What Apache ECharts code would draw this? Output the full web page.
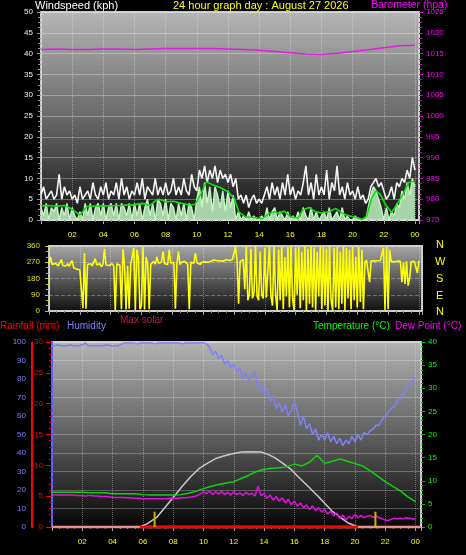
<!DOCTYPE html>
<html><head><meta charset="utf-8">
<script src="https://cdn.jsdelivr.net/npm/echarts/dist/echarts.min.js"></script>
<style>html,body{margin:0;padding:0;background:#000;}#c{width:466px;height:555px;}</style>
</head><body><div id="c"></div>
<script>
// ---------- DATA ----------
const hourTickLabels = ['02','04','06','08','10','12','14','16','18','20','22','00'];
const barometerHourly = [1016.0,1016.1,1016.0,1016.0,1016.1,1016.1,1016.0,1016.1,1016.2,1016.2,1016.2,1016.2,1016.1,1016.0,1015.8,1015.5,1015.2,1014.9,1014.8,1015.1,1015.5,1015.9,1016.4,1016.9,1017.0];
// 10-minute samples (6 per hour)
const windGust = [
 6,8,5,6,7,5, 6,11,5,8,6,7, 5,6,4,8,5,6, 7,5,9,6,5,8, 6,9,5,7,6,9, 5,10,6,8,5,7,
 6,9,6,10,5,8, 7,6,10,6,8,6, 9,6,7,10,6,8, 6,10,7,6,11,8, 7,12,10,13,9,12, 10,13,9,12,10,11,
 9,11,8,10,5,6, 4,6,3,5,6,4, 5,4,6,8,5,9, 6,8,5,9,6,11, 6,8,5,7,6,9, 13,6,9,5,11,6,
 8,6,12,5,9,7, 13,6,8,5,9,6, 7,5,8,5,6,4, 5,8,9,10,8,9, 7,5,6,8,5,9, 8,10,9,12,10,15, 12];
const windSpeed = [
 3,1,4,0,3,2, 4,0,3,1,4,0, 3,1,0,2,0,4, 1,4,0,3,4,1, 4,0,3,4,1,4, 0,4,3,1,4,0,
 4,1,4,0,3,5, 1,4,0,5,4,1, 5,0,4,3,0,4, 1,4,0,4,3,0, 5,8,3,9,4,8, 2,8,6,3,7,2,
 7,3,6,0,2,0, 1,0,2,0,1,0, 0,1,0,3,0,2, 3,0,2,1,0,2, 0,1,0,2,0,3, 1,0,3,0,2,0,
 1,2,0,3,0,1, 2,0,3,0,1,0, 0,1,0,0,0,0, 3,6,8,7,5,3, 0,3,0,2,1,4, 3,7,5,9,6,10, 8];
const avgWindHours = [0,0.5,1,1.5,1.8,2.2,2.5,2.8,3,4,5,6,6.5,7,7.3,7.6,8,8.5,9,9.5,9.9,10.3,10.6,11,11.5,12,12.4,12.7,13.1,13.7,14.2,14.6,15,15.3,15.6,16,16.5,16.8,17.2,17.6,18,18.5,18.9,19.2,19.5,20,20.3,20.6,20.9,21.2,21.5,21.8,22.1,22.5,22.8,23.2,23.6,24];
const avgWind = [3.4,3.5,3.3,3.5,3.0,2.0,1.2,2.6,3.3,3.4,3.5,3.7,4.0,3.5,4.5,5.0,4.4,4.5,4.0,3.6,3.8,6.5,9.2,8.5,7.8,6.8,5.2,1.9,0.8,0.6,0.3,1.5,2.0,1.5,2.2,0.8,0.4,2.4,3.0,2.0,1.7,2.0,2.8,2.0,1.3,0.8,0.6,0.1,0.9,5.0,7.0,6.0,3.8,1.8,3.5,6.0,9.0,9.3];
// wind direction, 6-minute samples (10 per hour)
const windDir = [
 262,300,258,250,265,255,250,258,285,252, 255,250,262,248,255,280,240,235,232,230,
 228,235,15,320,12,258,252,262,250,255, 290,255,250,262,245,258,345,255,250,252,
 258,262,250,5,260,250,255,10,345,255, 8,250,12,260,300,350,5,340,290,10,
 30,355,8,300,265,10,258,262,275,260, 300,265,258,270,330,262,268,258,340,265,
 262,270,12,265,330,258,270,262,275,268, 258,10,270,262,265,320,268,272,258,270,
 275,272,278,270,280,275,278,282,276,278, 280,278,282,276,280,284,278,280,282,285,
 280,355,282,40,275,280,285,120,360,60, 90,345,70,100,360,80,60,330,90,70,
 350,75,65,360,80,30,355,90,5,340, 60,360,10,300,80,355,20,360,70,5,
 350,90,355,15,330,60,360,0,345,40, 360,20,350,5,330,80,360,10,355,30,
 345,0,360,60,5,350,20,355,10,330, 40,360,5,350,70,340,10,355,60,300,
 20,355,50,340,10,270,282,275,160,278, 280,276,282,278,285,280,275,350,5,355,
 10,340,275,278,272,280,276,282,275,160, 270,150,275,140,185,272,278,275,280,210, 278];
// 12-minute samples (5 per hour)
const humidity = [
 98,98,98.5,98,98, 98,98.5,98,98,98, 98.5,99.5,98,98,98, 98,98,98,98.5,98, 98,98,98,99,99.5,
 99.5,99.5,99.5,99,99.5, 99.5,99.5,99.5,99.5,99, 99.5,99.5,99.5,99.5,99.5, 99.5,99.5,99.5,99,99.5, 99.5,99.5,99.5,99.5,99.5,
 99.5,99,97,93,95, 91,93,88,90,86, 88,84,86,80,83, 79,82,84,74,77, 72,75,68,71,64,
 67,62,66,60,63, 68,62,55,60,53, 56,50,53,47,50, 47,51,46,49,45, 48,44,47,45,49,
 46,50,47,51,50, 52,53,55,55,58, 60,62,64,65,68, 70,72,75,77,79, 81];
const dewPoint = [
 6.9,6.9,6.9,6.9,6.9, 6.9,6.9,6.9,6.8,6.8, 6.8,6.7,6.8,6.8,6.7, 6.7,6.6,6.6,6.6,6.5, 6.4,6.4,6.4,6.4,6.4,
 6.3,6.3,6.2,6.2,6.2, 6.1,6.1,6.1,6.1,6.1, 6.1,6.1,6.1,6.1,6.2, 6.2,6.2,6.2,6.3,6.3, 6.4,6.5,6.6,6.8,7.2,
 7.6,7.2,7.8,7.0,7.6, 7.1,7.7,7.0,7.5,6.9, 7.6,7.0,7.4,6.8,7.5, 7.0,7.3,6.7,8.8,6.8, 7.2,6.2,6.9,5.8,6.6,
 5.6,6.3,5.2,6.0,4.8, 5.6,4.5,5.2,4.2,4.8, 3.8,4.6,3.5,4.2,3.2, 3.8,2.8,3.4,2.4,3.0, 1.8,2.6,1.5,2.3,1.8,
 2.8,2.0,2.5,2.0,2.3, 2.5,2.1,2.4,2.0,1.8, 1.5,1.4,1.7,1.9,1.8, 1.9,1.8,2.0,1.9,1.8, 1.7];
// half-hour samples
const temperature = [7.5,7.5,7.5,7.5,7.5,7.4,7.4,7.4,7.2,7.2,7.2,7.2,7.0,6.9,6.9,6.9,6.9,7.0,7.3,7.7,8.3,8.8,9.2,9.5,9.8,10.5,11.2,12.0,12.5,12.7,12.8,13.0,13.6,13.2,14.0,15.5,13.8,14.2,14.7,14.2,13.7,13.2,12.2,11.0,9.8,8.8,7.8,6.5,5.5];
const solarHours = [5.8,6.3,6.95,7.5,8.05,8.6,9.15,9.7,10.3,10.8,11.4,12,12.5,13.2,13.8,14.2,14.7,15.2,15.8,16.3,16.9,17.5,18,18.5,19.1,19.6,20.2];
const maxSolar = [0,18,55,110,165,220,272,315,347,370,385,397,405,407,405,395,375,347,310,268,220,172,128,85,48,20,0];
const rainTotalHours = [0,24.36]; const rainTotal = [0,0];
const rainRateHours = [5.8,20.2]; const rainRate = [0,0];
const markerHours = [6.77,21.35]; const markerHeight = [3.3,3.3];

// ---------- BUILD ----------
const FONT = 'Liberation Sans';
const pairs = (xs, ys) => xs.map((x,i)=>[x, ys[i]]);
const even = (vals, per) => vals.map((v,i)=>[i/per, v]);
const grad = (a,b,c) => new echarts.graphic.LinearGradient(0,0,0,1,[{offset:0,color:a},{offset:0.5,color:b},{offset:1,color:c}]);
const hourFmt = v => {
  const r = Math.round(v);
  if (Math.abs(v-r) > 0.01 || r === 0 || r % 2) return '';
  return hourTickLabels[r/2-1];
};
function xAx(g, max, labels) {
  return {type:'value', gridIndex:g, min:0, max:max, interval:2,
    axisLine:{show:false},
    axisTick:{show:true, length:4, lineStyle:{color:'#a0a0a0'}},
    minorTick:{show:true, splitNumber:4, length:2, lineStyle:{color:'#808080'}},
    axisLabel:{show:labels, color:'#ffff00', fontSize:8, fontFamily:FONT, margin:11, formatter:hourFmt, showMaxLabel:false, showMinLabel:false},
    splitLine:{show:true, lineStyle:{color:'rgba(255,255,255,0.35)', type:'dotted'}}};
}
function yAx(o) {
  return Object.assign({type:'value', axisLine:{show:false},
    splitLine:{show:false}}, o);
}
const line = (name, xi, yi, data, color, w, extra) => Object.assign({
  name, type:'line', xAxisIndex:xi, yAxisIndex:yi, data, showSymbol:false, symbol:'none',
  lineStyle:{color, width:w}, itemStyle:{color}, animation:false, clip:true}, extra||{});
const plain = v => String(v);

const option = {
  backgroundColor:'#000',
  animation:false,
  grid:[
    {left:41, top:12, width:378, height:208, show:true, borderColor:'#c8c8c8', borderWidth:2, backgroundColor:grad('#b6b6b6','#6a6a6a','#141414')},
    {left:49, top:246, width:373, height:65, show:true, borderColor:'#c8c8c8', borderWidth:2, backgroundColor:grad('#a8a8a8','#5a5a5a','#0e0e0e')},
    {left:52, top:342, width:369, height:185, show:true, borderColor:'#c8c8c8', borderWidth:2, backgroundColor:grad('#b4b4b4','#606060','#050505')}
  ],
  xAxis:[ xAx(0, 24.26, true), xAx(1, 24.2, false), xAx(2, 24.36, true) ],
  yAxis:[
    yAx({gridIndex:0, position:'left', min:0, max:50, interval:5,
      axisTick:{show:true, length:4, lineStyle:{color:'#909090'}},
      minorTick:{show:true, splitNumber:4, length:3, lineStyle:{color:'#909090'}},
      axisLabel:{color:'#e8f0ff', fontSize:8, fontFamily:FONT, margin:8, formatter:plain},
      splitLine:{show:true, lineStyle:{color:'rgba(255,255,255,0.3)'}}}),
    yAx({gridIndex:0, position:'right', min:975, max:1025, interval:5,
      axisTick:{show:true, length:4, lineStyle:{color:'#d000d0'}},
      minorTick:{show:true, splitNumber:4, length:3, lineStyle:{color:'#d000d0'}},
      axisLabel:{color:'#ff00ff', fontSize:8, fontFamily:FONT, margin:7, formatter:plain}}),
    yAx({gridIndex:1, position:'left', min:0, max:360, interval:90,
      axisTick:{show:true, length:4, lineStyle:{color:'#c8c800'}},
      minorTick:{show:true, splitNumber:3, length:3, lineStyle:{color:'#c8c800'}},
      axisLabel:{color:'#e0e000', fontSize:8, fontFamily:FONT, margin:9, formatter:plain},
      splitLine:{show:true, lineStyle:{color:'rgba(255,255,255,0.3)', type:'dashed'}}}),
    yAx({gridIndex:2, position:'left', offset:22, min:0, max:100, interval:10,
      axisLine:{show:true, lineStyle:{color:'#6060ff', width:2}},
      axisTick:{show:true, length:3, lineStyle:{color:'#7070ff'}},
      axisLabel:{color:'#8080ff', fontSize:8, fontFamily:FONT, margin:4, formatter:plain},
      splitLine:{show:true, lineStyle:{color:'rgba(255,255,255,0.25)'}}}),
    yAx({gridIndex:2, position:'left', min:0, max:30, interval:5,
      axisTick:{show:true, length:6, lineStyle:{color:'#ff0000'}},
      minorTick:{show:true, splitNumber:5, length:3, lineStyle:{color:'#e00000'}},
      axisLabel:{color:'#ff0000', fontSize:8, fontFamily:FONT, margin:9, formatter:plain}}),
    yAx({gridIndex:2, position:'right', min:0, max:40, interval:5,
      axisTick:{show:true, length:4, lineStyle:{color:'#00c000'}},
      minorTick:{show:true, splitNumber:5, length:2, lineStyle:{color:'#00c000'}},
      axisLabel:{color:'#00ff00', fontSize:8, fontFamily:FONT, margin:7, formatter:plain}}),
    yAx({gridIndex:2, show:false, min:0, max:1000})
  ],
  series:[
    line('Barometer', 0, 1, even(barometerHourly, 1), '#e020e0', 1.5),
    line('Gust', 0, 0, even(windGust, 6), '#f4f4f4', 1.6),
    line('Speed', 0, 0, even(windSpeed, 6), '#c4f4c4', 1.4, {areaStyle:{color:'#b8e8b8', opacity:0.9}}),
    line('Average', 0, 0, pairs(avgWindHours, avgWind), '#10e010', 1.6),
    line('Direction', 1, 2, even(windDir, 10), '#ffff00', 1.6),
    line('Max solar', 2, 6, pairs(solarHours, maxSolar), '#c8c8c8', 1.5),
    line('Rainfall', 2, 4, pairs(rainTotalHours, rainTotal), '#e89090', 2.5, {clip:false}),
    line('Rain rate', 2, 4, pairs(rainRateHours, rainRate), '#ff0000', 2.5, {clip:false}),
    line('Humidity', 2, 3, even(humidity, 5), '#8080f8', 1.5),
    line('Temperature', 2, 5, even(temperature, 2), '#10d010', 1.5),
    line('Dew Point', 2, 5, even(dewPoint, 5), '#e010e0', 1.5),
    line('m1', 2, 5, [[markerHours[0],0],[markerHours[0],markerHeight[0]]], '#c8b400', 2, {clip:false}),
    line('m2', 2, 5, [[markerHours[1],0],[markerHours[1],markerHeight[1]]], '#c8b400', 2, {clip:false})
  ],
  graphic:[
    {type:'text', left:35, top:0, style:{text:'Windspeed (kph)', fill:'#ffffff', font:'11px '+FONT}},
    {type:'text', left:173, top:0, style:{text:'24 hour graph day : August 27 2026', fill:'#ffff00', font:'11px '+FONT}},
    {type:'text', left:371, top:0, style:{text:'Barometer (hpa)', fill:'#ff00ff', font:'10.5px '+FONT}},
    {type:'text', left:436, top:239, style:{text:'N', fill:'#ffff00', font:'11px '+FONT}},
    {type:'text', left:435, top:256, style:{text:'W', fill:'#ffff00', font:'11px '+FONT}},
    {type:'text', left:436, top:273, style:{text:'S', fill:'#ffff00', font:'11px '+FONT}},
    {type:'text', left:436, top:290, style:{text:'E', fill:'#ffff00', font:'11px '+FONT}},
    {type:'text', left:436, top:306, style:{text:'N', fill:'#ffff00', font:'11px '+FONT}},
    {type:'text', left:120, top:315, style:{text:'Max solar', fill:'#c0185a', font:'10px '+FONT}},
    {type:'text', left:0, top:321, style:{text:'Rainfall (mm)', fill:'#ff0000', font:'10px '+FONT}},
    {type:'text', left:67, top:321, style:{text:'Humidity', fill:'#8080ff', font:'10px '+FONT}},
    {type:'text', left:313, top:321, style:{text:'Temperature (°C)', fill:'#00ff00', font:'10px '+FONT}},
    {type:'text', left:395, top:321, style:{text:'Dew Point (°C)', fill:'#ff00ff', font:'10px '+FONT}},
    {type:'line', shape:{x1:32, y1:342, x2:32, y2:528}, style:{stroke:'#ff0000', lineWidth:2}}
  ]
};
const chart = echarts.init(document.getElementById('c'), null, {renderer:'canvas'});
chart.setOption(option);
</script></body></html>
